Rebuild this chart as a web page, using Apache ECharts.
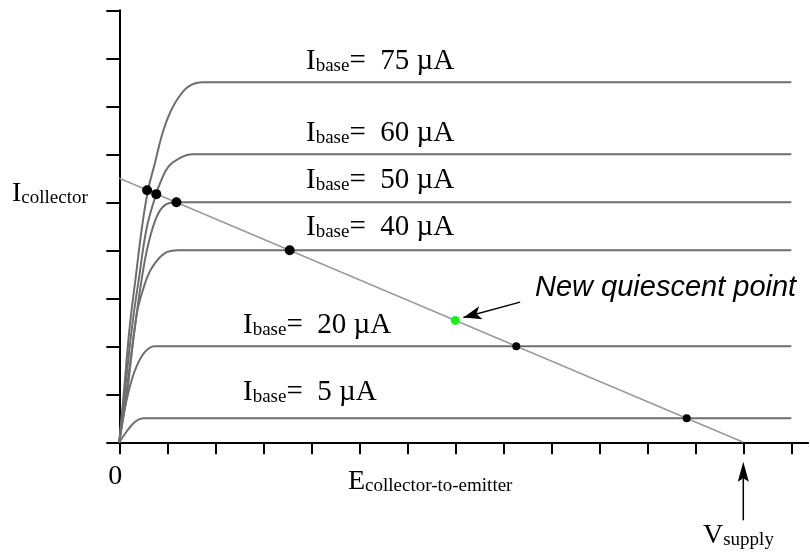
<!DOCTYPE html>
<html>
<head>
<meta charset="utf-8">
<script src="https://cdn.jsdelivr.net/npm/echarts@6/dist/echarts.min.js"></script>
<style>
  html, body { margin: 0; padding: 0; background: #fff; }
  #myChart { width: 810px; height: 556px; }
</style>
</head>
<body>
<div id="myChart"></div>
<script>
// collector characteristic curves, [E_ce, I_c]
const curve75 = [[0, 0], [0.1, 1.1], [0.22, 2.44], [0.34, 3.42], [0.47, 4.46], [0.6, 5.26], [0.74, 5.81], [0.88, 6.37], [1.02, 6.78], [1.2, 7.13], [1.44, 7.41], [1.75, 7.5], [1.9, 7.5], [14, 7.5]]
const curve60 = [[0, 0], [0.12, 1.1], [0.27, 2.44], [0.41, 3.42], [0.57, 4.46], [0.76, 5.15], [0.85, 5.4], [1.02, 5.74], [1.3, 5.94], [1.51, 6], [1.65, 6], [14, 6]]
const curve50 = [[0, 0], [0.14, 1.0], [0.33, 2.44], [0.47, 3.42], [0.6, 4.11], [0.78, 4.7], [0.95, 4.94], [1.2, 5], [1.35, 5], [14, 5]]
const curve40 = [[0, 0], [0.17, 1.1], [0.36, 2.65], [0.5, 3.2], [0.67, 3.62], [0.95, 3.94], [1.23, 4], [1.4, 4], [14, 4]]
const curve20 = [[0, 0], [0.08, 0.53], [0.22, 1.16], [0.36, 1.58], [0.54, 1.89], [0.74, 2], [0.9, 2], [14, 2]]
const curve5 = [[0, 0], [0.15, 0.22], [0.33, 0.43], [0.5, 0.5], [0.65, 0.5], [14, 0.5]]
const curves = [curve75, curve60, curve50, curve40, curve20, curve5]
const baseCurrents = ['75', '60', '50', '40', '20', '5']

const loadLine = [[0, 5.5], [13, 0]]
const crossPoints = [[0.58, 5.25], [0.77, 5.17], [1.19, 5.0], [3.55, 4.0]]
const crossPointsSmall = [[8.27, 2.0], [11.82, 0.5]]
const newQPoint = [[7.0, 2.54]]
const qArrow = [[8.35, 2.92], [7.17, 2.6]]
const vSupply = 13

const xTickValues = [0, 1, 2, 3, 4, 5, 6, 7, 8, 9, 10, 11, 12, 13, 14]
const xLabelValues = [0]

const serif = 'Liberation Serif'
// pixel spots of the curve captions [left, bottom]
const captionPos = [[306, 75.5], [306, 148], [306, 194.5], [306, 242], [243, 339.5], [243, 407]]

function subText (main, sub, rest, x, y, size) {
  return {
    type: 'text',
    x: x,
    y: y,
    silent: true,
    style: {
      text: '{m|' + main + '}{s|' + sub + '}{m|' + rest + '}',
      align: 'left',
      verticalAlign: 'bottom',
      rich: {
        m: { fontFamily: serif, fontSize: size, lineHeight: 28, verticalAlign: 'bottom', fill: '#000' },
        s: { fontFamily: serif, fontSize: 19, lineHeight: 5, verticalAlign: 'bottom', fill: '#000' }
      }
    }
  }
}

let myChart = echarts.init(document.getElementById('myChart'))

let series = curves.map(function (c) {
  return {
    type: 'line',
    data: c,
    smooth: 0.4,
    showSymbol: false,
    silent: true,
    lineStyle: { color: '#6e6e6e', width: 2 },
    z: 2
  }
})
series.push({
  type: 'line',
  data: loadLine,
  showSymbol: false,
  silent: true,
  lineStyle: { color: '#9a9a9a', width: 1.5 },
  z: 3,
  markLine: {
    silent: true,
    symbol: ['none', 'arrow'],
    symbolSize: [10, 18],
    label: { show: false },
    lineStyle: { color: '#000', width: 1.5, type: 'solid' },
    data: [[{ coord: qArrow[0] }, { coord: qArrow[1] }]]
  }
})
series.push({
  type: 'scatter',
  data: crossPoints,
  symbolSize: 10,
  itemStyle: { color: '#000', opacity: 1 },
  silent: true,
  z: 5
})
series.push({
  type: 'scatter',
  data: crossPointsSmall,
  symbolSize: 8,
  itemStyle: { color: '#000', opacity: 1 },
  silent: true,
  z: 5
})
series.push({
  type: 'scatter',
  data: newQPoint,
  symbolSize: 9,
  itemStyle: { color: '#19f019', opacity: 1 },
  silent: true,
  z: 5
})

myChart.setOption({
  animation: false,
  grid: { left: 119.3, right: 1.9, top: 10.3, bottom: 113.7 },
  xAxis: {
    type: 'value',
    min: 0,
    max: 14.35,
    axisLine: { show: true, onZero: false, lineStyle: { color: '#000', width: 2 } },
    axisTick: { show: true, customValues: xTickValues, length: 12, lineStyle: { color: '#000', width: 2 } },
    axisLabel: { show: true, customValues: xLabelValues, margin: 20, padding: [0, 8, 0, 0], fontFamily: serif, fontSize: 28, color: '#000' },
    splitLine: { show: false }
  },
  yAxis: {
    type: 'value',
    min: 0,
    max: 9,
    interval: 1,
    axisLine: { show: true, onZero: false, lineStyle: { color: '#000', width: 2 } },
    axisTick: { show: true, length: 13, lineStyle: { color: '#000', width: 2 } },
    axisLabel: { show: false },
    splitLine: { show: false }
  },
  series: series
})

// captions and the V_supply arrow
let p = myChart.convertToPixel({ gridIndex: 0 }, [vSupply, 0])
let graphics = baseCurrents.map(function (b, i) {
  return subText('I', 'base', '=  ' + b + ' µA', captionPos[i][0], captionPos[i][1], 29)
})
graphics.push(subText('I', 'collector', '', 12, 207.5, 28))
graphics.push(subText('E', 'collector-to-emitter', '', 348, 495.5, 28))
graphics.push(subText('V', 'supply', '', 703, 549.5, 28))
graphics.push({
  type: 'text',
  x: 535,
  y: 302,
  silent: true,
  style: {
    text: 'New quiescent point',
    fontFamily: 'Liberation Sans',
    fontStyle: 'italic',
    fontSize: 29,
    fill: '#000',
    align: 'left',
    verticalAlign: 'bottom'
  }
})
graphics.push({
  type: 'line',
  silent: true,
  shape: { x1: p[0], y1: p[1] + 78, x2: p[0], y2: p[1] + 36 },
  style: { stroke: '#000', lineWidth: 1.5 }
})
graphics.push({
  type: 'polygon',
  silent: true,
  shape: { points: [[p[0], p[1] + 19.5], [p[0] - 5.5, p[1] + 39.5], [p[0], p[1] + 36], [p[0] + 5.5, p[1] + 39.5]] },
  style: { fill: '#000' }
})
myChart.setOption({ graphic: graphics })
</script>
</body>
</html>
